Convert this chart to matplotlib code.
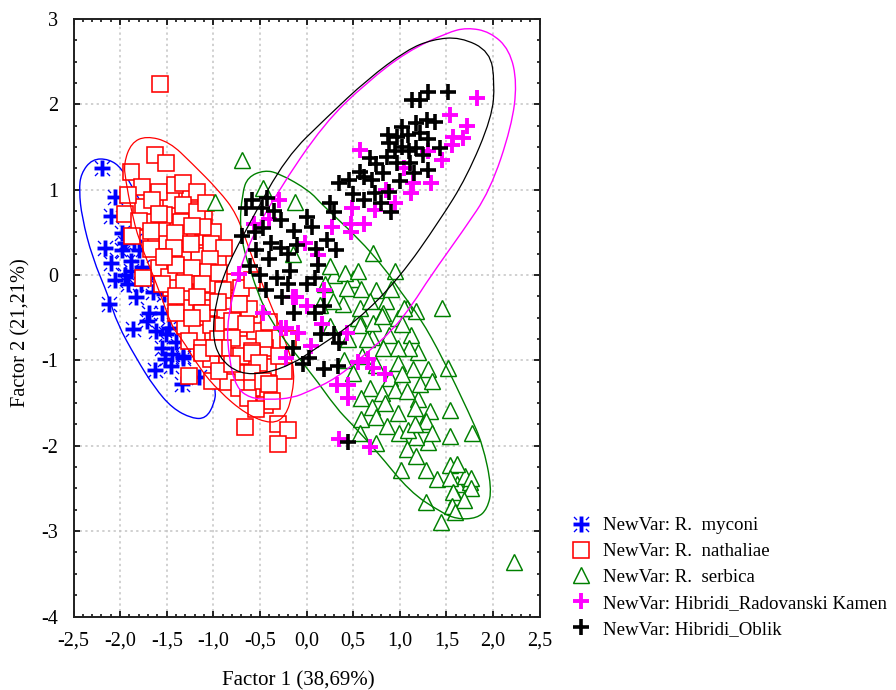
import matplotlib
matplotlib.use("Agg")
import matplotlib.pyplot as plt
from matplotlib.path import Path
from matplotlib.patches import PathPatch
from matplotlib.ticker import AutoMinorLocator

plt.rcParams['font.family'] = ['Liberation Serif', 'DejaVu Serif']

x_ticks = [-2.5, -2.0, -1.5, -1.0, -0.5, 0.0, 0.5, 1.0, 1.5, 2.0, 2.5]
x_labels = ['-2,5', '-2,0', '-1,5', '-1,0', '-0,5', '0,0', '0,5', '1,0', '1,5', '2,0', '2,5']
y_ticks = [-4, -3, -2, -1, 0, 1, 2, 3]
x_title = 'Factor 1 (38,69%)'
y_title = 'Factor 2 (21,21%)'
names = ['NewVar: R.  myconi', 'NewVar: R.  nathaliae', 'NewVar: R.  serbica',
         'NewVar: Hibridi_Radovanski Kamen', 'NewVar: Hibridi_Oblik']

myconi = [(-1.95,0.38),(-1.85,0.40),(-1.72,0.00),(-1.65,-0.20),(-1.55,-0.45),(-1.62,-0.65),(-1.40,-0.78),
          (-1.52,-0.98),(-1.95,0.00),(-1.78,-0.10),
          (-2.19,1.26),(-2.06,0.91),(-2.10,0.69),(-1.98,0.49),(-2.16,0.32),(-2.10,0.14),(-1.88,0.17),
          (-1.98,0.29),(-1.88,0.05),(-2.06,-0.06),(-1.92,-0.10),(-1.83,-0.26),(-2.12,-0.34),(-1.69,-0.45),
          (-1.71,-0.54),(-1.86,-0.63),(-1.51,-0.69),(-1.55,-0.85),(-1.44,-0.92),(-1.47,-0.62),(-1.33,-0.95),
          (-1.63,-1.11),(-1.45,-1.06),(-1.33,-0.97),(-1.34,-1.28),(-1.15,-1.19),(-1.80,0.29),(-1.76,0.09),
          (-1.58,-0.03),(-1.53,-0.22)]
nathaliae = [(-1.75,0.80),(-1.70,0.62),(-1.62,0.42),(-1.50,0.40),(-1.35,0.62),(-1.25,0.95),(-1.45,0.88),
             (-1.10,0.66),(-1.00,0.50),(-0.95,0.15),(-1.15,0.22),(-1.32,0.22),(-1.58,0.08),(-1.47,-0.02),
             (-1.22,-0.02),(-1.02,-0.12),(-0.80,-0.08),(-0.82,-0.30),(-1.30,-0.36),(-1.05,-0.38),(-1.30,-0.60),
             (-1.18,-0.68),(-1.03,-0.58),(-0.90,-0.60),(-0.72,-0.62),(-0.55,-0.65),(-0.40,-0.55),(-1.03,-0.98),
             (-0.85,-0.95),(-0.70,-0.95),(-0.70,-1.15),(-0.45,-1.00),(-0.35,-1.08),(-0.85,-1.25),(-0.72,-1.32),
             (-0.50,-1.35),(-1.45,-0.15),(-1.20,0.45),(-1.55,0.55),(-1.30,-0.20),(-0.95,-0.75),(-0.62,-0.40),
             (-0.45,-0.85),
             (-1.57,2.24),(-1.63,1.41),(-1.51,1.31),(-1.88,1.21),(-1.76,1.03),(-1.91,0.94),(-1.58,0.97),
             (-1.41,1.06),(-1.33,1.08),(-1.17,0.97),(-1.95,0.72),(-1.80,0.63),(-1.53,0.70),(-1.33,0.82),
             (-1.18,0.74),(-1.08,0.84),(-1.66,0.88),(-1.58,0.72),(-1.67,0.52),(-1.87,0.46),(-1.41,0.49),
             (-1.11,0.56),(-1.23,0.58),(-1.24,0.36),(-1.42,0.32),(-1.67,0.31),(-1.03,0.36),(-0.88,0.32),
             (-1.04,0.19),(-1.40,0.12),(-1.23,0.08),(-1.53,0.21),(-1.06,0.04),(-0.94,0.02),(-1.75,-0.04),
             (-1.55,-0.10),(-1.31,-0.09),(-1.12,-0.10),(-0.90,-0.18),(-1.40,-0.24),(-1.18,-0.26),(-0.70,-0.15),
             (-0.59,-0.06),(-1.40,-0.44),(-1.12,-0.44),(-0.95,-0.31),(-0.80,-0.54),(-0.65,-0.57),(-0.72,-0.34),
             (-1.26,-0.77),(-1.12,-0.86),(-0.80,-0.74),(-0.46,-0.75),(-0.59,-0.89),(-0.90,-0.85),(-1.23,-0.50),
             (-1.12,-0.91),(-0.99,-0.86),(-0.58,-0.91),(-0.51,-1.03),(-0.24,-1.12),(-0.59,-1.15),(-1.01,-1.24),
             (-1.26,-1.18),(-0.94,-1.12),(-0.80,-1.04),(-0.58,-1.32),(-0.63,-1.44),(-0.45,-1.52),(-0.37,-1.48),
             (-0.54,-1.57),(-0.66,-1.78),(-0.31,-1.75),(-0.20,-1.82),(-0.31,-1.98),(-0.47,-1.24),(-0.40,-1.28),
             (-0.30,-0.95),(-0.20,-0.75)]
serbica = [(0.55,-0.50),(0.88,-0.70),(0.70,-0.72),(0.90,-1.20),(0.95,-1.35),(1.20,-1.45),(0.70,-1.55),
           (0.85,-0.30),(0.98,-0.50),(1.12,-0.70),(1.20,-0.90),(0.50,-1.15),(0.60,-0.95),(1.30,-1.95),
           (1.62,-2.45),(1.70,-2.35),(1.60,-2.60),(1.75,-2.42),(1.10,-0.85),(1.25,-1.75),(1.18,-1.90),
           (0.30,0.00),(0.50,-0.05),(0.20,-0.10),
           (-0.69,1.35),(-0.98,0.86),(-0.47,1.02),(-0.12,0.86),(-0.15,0.25),(0.71,0.26),(0.95,0.05),
           (0.25,0.11),(0.41,0.03),(0.55,0.05),(0.43,-0.15),(0.59,-0.16),(0.75,-0.18),(0.91,-0.16),
           (1.45,-0.39),(1.08,-0.39),(1.18,-0.42),(0.39,-0.34),(0.28,-0.30),(0.57,-0.38),(0.82,-0.45),
           (0.68,-0.30),(1.05,-0.38),(0.57,-0.59),(0.71,-0.56),(0.81,-0.48),(1.03,-0.57),(0.98,-0.85),
           (0.82,-0.86),(0.98,-1.03),(1.14,-1.10),(1.30,-1.10),(1.52,-1.09),(1.03,-1.16),(1.22,-1.28),
           (1.35,-1.24),(0.68,-1.32),(0.81,-1.38),(1.08,-1.36),(0.59,-1.44),(0.84,-1.50),(0.98,-1.62),
           (1.16,-1.56),(1.32,-1.59),(1.54,-1.58),(0.75,-1.66),(0.59,-1.69),(0.86,-1.77),(1.28,-1.71),
           (0.99,-1.85),(1.09,-1.81),(1.16,-1.75),(1.35,-1.85),(1.54,-1.88),(1.78,-1.85),(0.57,-1.85),
           (0.75,-1.97),(1.08,-2.04),(1.18,-2.12),(1.01,-2.28),(1.28,-2.28),(1.54,-2.22),(1.62,-2.21),
           (1.40,-2.39),(1.54,-2.38),(1.77,-2.38),(1.77,-2.50),(1.57,-2.54),(1.69,-2.63),(1.28,-2.66),
           (1.56,-2.71),(1.59,-2.77),(1.44,-2.89),(2.23,-3.36),(0.15,-0.35),(0.25,-0.60),(0.45,-0.75),
           (0.40,-1.00),(0.65,-0.75),(0.75,-1.05)]
radovanski = [(1.83,2.08),(1.54,1.88),(1.72,1.75),(1.57,1.62),(1.68,1.61),(1.56,1.52),(1.45,1.35),
              (1.34,1.08),(1.14,1.08),(1.12,0.96),(0.57,1.46),(0.73,0.76),(0.49,0.78),(0.62,0.60),
              (0.48,0.60),(0.48,0.50),(0.27,0.56),(-0.29,0.88),(-0.40,0.66),(-0.56,0.60),(-0.02,0.37),
              (0.12,0.23),(-0.72,0.01),(0.19,-0.18),(-0.11,-0.26),(0.00,-0.36),(-0.47,-0.45),(-0.22,-0.62),
              (-0.09,-0.68),(0.17,-0.57),(0.43,-0.68),(0.55,-1.02),(0.66,-0.98),(0.84,-1.16),(0.71,-1.09),
              (0.33,-1.29),(0.44,-1.29),(0.44,-1.44),(0.68,-2.01),(0.35,-1.92),(0.05,-0.83),(-0.22,-0.97),
              (-0.27,-0.62),(-0.15,-0.26),(0.95,0.85),(1.05,1.25),(1.30,1.45),(0.85,1.00)]
oblik = [(1.52,2.15),(1.30,2.14),(1.22,2.05),(1.13,2.05),(1.38,1.79),(1.29,1.82),(1.18,1.78),(1.03,1.74),
         (0.87,1.64),(0.97,1.62),(1.09,1.64),(1.22,1.66),(0.89,1.55),(1.03,1.50),(1.18,1.49),(1.43,1.49),
         (1.25,1.41),(0.68,1.37),(0.86,1.38),(0.97,1.31),(1.11,1.31),(1.30,1.23),(0.57,1.21),(0.70,1.11),
         (0.82,1.19),(0.35,1.08),(0.46,1.11),(0.62,1.15),(0.73,0.96),(0.89,0.97),(0.62,0.88),(0.25,0.84),
         (0.30,0.74),(0.91,0.74),(-0.58,0.88),(-0.42,0.90),(-0.65,0.78),(-0.48,0.79),(-0.69,0.46),(-0.47,0.55),
         (-0.27,0.64),(-0.13,0.52),(0.00,0.68),(0.06,0.56),(0.22,0.41),(0.32,0.29),(-0.54,0.29),(-0.38,0.38),
         (-0.27,0.32),(-0.40,0.19),(-0.61,0.11),(-0.18,0.05),(0.09,-0.03),(-0.32,-0.04),(0.00,-0.10),(-0.43,-0.18),
         (-0.26,-0.26),(0.19,-0.36),(0.09,-0.45),(-0.13,-0.44),(0.16,-0.69),(0.30,-0.69),(0.35,-0.79),(-0.14,-0.86),
         (-0.04,-1.04),(0.03,-0.97),(0.19,-1.10),(0.34,-1.06),(0.45,-1.95),
         (0.75,1.30),(0.95,1.45),(1.10,1.45),(1.30,1.60),(0.80,0.85),(1.00,1.10),(1.15,1.20),(0.50,0.95),
         (-0.55,0.50),(-0.35,0.75),(-0.20,0.25),(-0.10,0.35),(0.10,0.30),(-0.20,-0.10),(-0.50,0.00),(0.12,0.12)]

outline_myconi = [(-2.30,1.36),(-2.42,1.19),(-2.44,0.99),(-2.41,0.68),(-2.30,0.21),(-2.12,-0.26),(-2.03,-0.57),
                  (-1.83,-0.97),(-1.63,-1.32),(-1.44,-1.56),(-1.23,-1.68),(-1.08,-1.68),(-0.99,-1.51),(-0.97,-1.34),
                  (-1.10,-0.77),(-1.37,-0.06),(-1.63,0.58),(-1.85,0.99),(-1.98,1.25),(-2.12,1.36)]
outline_nathaliae = [(-1.72,1.63),(-1.88,1.55),(-1.96,1.31),(-1.94,1.11),(-1.88,0.76),(-1.80,0.41),(-1.58,-0.18),
                     (-1.44,-0.62),(-1.34,-0.74),(-1.15,-1.09),(-0.94,-1.36),(-0.65,-1.63),(-0.37,-1.75),(-0.22,-1.65),
                     (-0.15,-1.39),(-0.13,-1.12),(-0.18,-0.92),(-0.29,-0.59),(-0.45,-0.18),(-0.61,0.29),(-0.75,0.72),
                     (-0.94,0.99),(-1.23,1.31),(-1.47,1.56)]
outline_serbica = [(-0.45,1.23),(-0.63,1.15),(-0.69,0.96),(-0.72,0.52),(-0.61,0.05),(-0.40,-0.54),(0.06,-1.16),
                   (0.32,-1.56),(0.49,-1.75),(0.75,-2.06),(1.11,-2.54),(1.43,-2.77),(1.61,-2.86),(1.83,-2.85),
                   (1.94,-2.74),(1.99,-2.50),(1.89,-1.98),(1.75,-1.63),(1.46,-0.97),(1.22,-0.50),(1.00,-0.18),
                   (0.86,0.05),(0.55,0.44),(0.17,0.82),(0.03,0.99),(-0.29,1.19)]
outline_radovanski = [(1.72,2.90),(1.97,2.85),(2.18,2.64),(2.26,2.25),(2.20,1.74),(1.97,0.99),(1.68,0.52),
                      (1.32,-0.03),(1.14,-0.34),(0.92,-0.65),(0.65,-0.91),(0.32,-1.21),(0.03,-1.36),(-0.15,-1.44),
                      (-0.40,-1.46),(-0.61,-1.44),(-0.75,-1.32),(-0.83,-1.01),(-0.86,-0.50),(-0.65,0.32),(-0.32,0.96),
                      (0.19,1.78),(0.65,2.26),(1.08,2.62),(1.51,2.84)]
outline_oblik = [(1.65,2.79),(1.97,2.62),(2.02,2.25),(1.99,1.85),(1.72,1.15),(1.43,0.64),(1.00,-0.03),(0.54,-0.54),
                 (0.06,-0.89),(-0.15,-1.04),(-0.43,-1.15),(-0.72,-1.16),(-0.94,-0.97),(-1.01,-0.69),(-0.97,-0.30),
                 (-0.86,0.09),(-0.61,0.61),(-0.22,1.38),(0.22,1.85),(0.65,2.29),(1.08,2.64),(1.35,2.76)]


def star_marker():
    t = 0.24
    verts = [(-1,-t),(-t,-t),(-t,-1),(t,-1),(t,-t),(1,-t),(1,t),(t,t),(t,1),(-t,1),(-t,t),(-1,t),(-1,-t)]
    codes = [Path.MOVETO] + [Path.LINETO]*11 + [Path.CLOSEPOLY]
    for sx, sy in [(1,1),(1,-1),(-1,1),(-1,-1)]:
        quad = [(.5,.62),(.62,.5),(1,.88),(.88,1),(.5,.62)]
        verts += [(sx*a, sy*b) for a, b in quad]
        codes += [Path.MOVETO] + [Path.LINETO]*3 + [Path.CLOSEPOLY]
    return Path(verts, codes)


def smooth_closed(points):
    # the read points are the control points of closed quadratic curves
    n = len(points)
    mid = lambda a, b: ((a[0]+b[0])/2, (a[1]+b[1])/2)
    verts = [mid(points[-1], points[0])]
    codes = [Path.MOVETO]
    for i in range(n):
        verts += [points[i], mid(points[i], points[(i+1) % n])]
        codes += [Path.CURVE3, Path.CURVE3]
    return Path(verts, codes)


fig = plt.figure(figsize=(8.96, 6.9), dpi=100)
ax = fig.add_axes([73.5/896, 1-616.5/690, 466/896, 597.5/690])

styles = [
    dict(marker=star_marker(), color='#0000ff', ms=11.5, mew=0, mfc='#0000ff', outline_lw=1.0),
    dict(marker='s', color='#ff0000', ms=11.2, mew=1.15, mfc='white', outline_lw=0.9),
    dict(marker='^', color='#008000', ms=11, mew=1.05, mfc='white', outline_lw=1.0),
    dict(marker='+', color='#ff00ff', ms=12, mew=2.8, mfc='none', outline_lw=1.0),
    dict(marker='+', color='#000000', ms=11.5, mew=2.6, mfc='none', outline_lw=0.9),
]
groups = [myconi, nathaliae, serbica, radovanski, oblik]
outlines = [outline_myconi, outline_nathaliae, outline_serbica, outline_radovanski, outline_oblik]

for i, (pts, out, st, name) in enumerate(zip(groups, outlines, styles, names)):
    xs = [p[0] for p in pts]
    ys = [p[1] for p in pts]
    mec = 'none' if st['mew'] == 0 else st['color']
    ax.plot(xs, ys, ls='none', marker=st['marker'], color=st['color'], ms=st['ms'], mew=st['mew'],
            mfc=st['mfc'], mec=mec, label=name, zorder=3+i)
    ax.add_patch(PathPatch(smooth_closed(out), fill=False, edgecolor=st['color'], lw=st['outline_lw'], zorder=3+i))

ax.set_xlim(-2.5, 2.5)
ax.set_ylim(-4, 3)
ax.set_xticks(x_ticks)
ax.set_xticklabels(x_labels)
ax.set_yticks(y_ticks)
ax.set_yticklabels([str(v) for v in y_ticks])
ax.xaxis.set_minor_locator(AutoMinorLocator(5))
ax.yaxis.set_minor_locator(AutoMinorLocator(4))
ax.tick_params(which='major', direction='in', length=4.5, width=1.2, top=True, right=True,
               labelsize=14.5, pad=11)
ax.tick_params(which='minor', direction='in', length=2, width=1.1, top=True, right=True)
ax.grid(True, which='major', color='#c4c4c4', lw=1.1, ls=(0, (1.5, 2.2)), zorder=1)
ax.set_axisbelow(True)
for s in ax.spines.values():
    s.set_linewidth(1.4)
    s.set_color('#202020')
fig.text(298/896, 1-681/690, x_title, ha='center', va='center', fontsize=15)
fig.text(21/896, 1-333/690, y_title, rotation=90, ha='center', va='center', fontsize=14.7)

h, l = ax.get_legend_handles_labels()
fig.legend(h, l, loc='upper left', bbox_to_anchor=(572/896, 1-517/690), frameon=False, fontsize=13.6,
           numpoints=1, handlelength=1.0, handletextpad=0.65, labelspacing=0.46, borderpad=0, borderaxespad=0)
fig.savefig('out.png', dpi=100)
